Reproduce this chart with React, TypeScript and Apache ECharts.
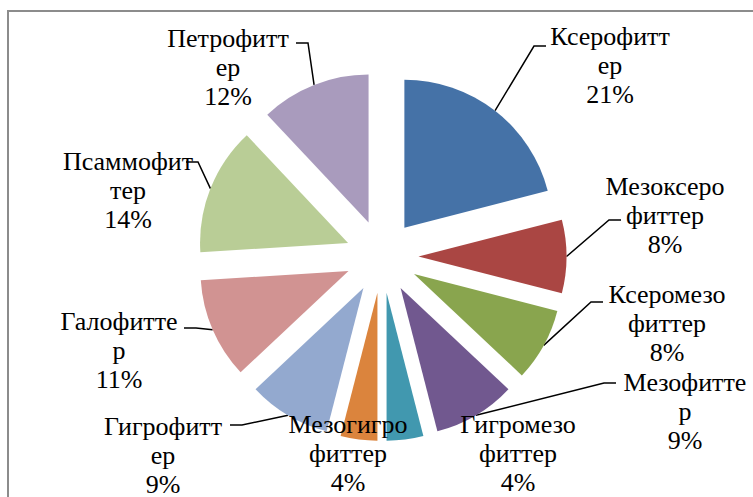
import React, { useEffect, useRef } from 'react';
import * as echarts from 'echarts';

const CATEGORIES = ['Ксерофиттер', 'Мезоксерофиттер', 'Ксеромезофиттер', 'Мезофиттер', 'Гигромезофиттер', 'Мезогигрофиттер', 'Гигрофиттер', 'Галофиттер', 'Псаммофиттер', 'Петрофиттер'];
const VALUES = [21, 8, 8, 9, 4, 4, 9, 11, 14, 12];
const LABEL_TEXT = ['Ксерофитт\nер', 'Мезоксеро\nфиттер', 'Ксеромезо\nфиттер', 'Мезофитте\nр', 'Гигромезо\nфиттер', 'Мезогигро\nфиттер', 'Гигрофитт\nер', 'Галофитте\nр', 'Псаммофит\nтер', 'Петрофитт\nер'];
const COLORS = ['#4572A7', '#AA4643', '#89A54E', '#71588F', '#4198AF', '#DB843D', '#93A9CF', '#D19392', '#B9CD96', '#A99BBD'];

// layout (not data)
const LABEL_CENTER = [[610, 65], [665, 215], [667, 323], [685, 411], [518, 453], [348, 453], [163, 455], [119, 350], [128, 190], [228, 67]];
const LEADER_END: (number[] | null)[] = [[546, 46], [621, 220], [603, 302], [616, 383], null, null, [230, 425], [184, 328], [186, 162], [296, 43]];
const CENTER = [382, 256.5];
const RADIUS = 148;
const EXPLODE = 36.5;
const FONT = 'Liberation Serif';
const FONT_SIZE = 26;
const LINE_H = 29;

export default function App() {
  const ref = useRef<HTMLDivElement>(null);
  useEffect(() => {
    const chart = echarts.init(ref.current!, null, { renderer: 'svg' });
    const total = VALUES.reduce((a, b) => a + b, 0);
    const mid: number[] = [];
    let cum = 0;
    VALUES.forEach((v) => {
      mid.push(((cum + v / 2) / total) * 2 * Math.PI);
      cum += v;
    });
    const arcPoint = (i: number) => {
      const a = mid[i];
      const r = EXPLODE + RADIUS;
      return [CENTER[0] + Math.sin(a) * r, CENTER[1] - Math.cos(a) * r];
    };
    const labelFont = {
      fontFamily: FONT,
      fontSize: FONT_SIZE,
      lineHeight: LINE_H,
      fontStyle: 'normal',
      fontWeight: 'normal',
      color: '#000',
    };
    const series = CATEGORIES.map((_, k) => ({
      type: 'pie',
      center: [CENTER[0] + Math.sin(mid[k]) * EXPLODE, CENTER[1] - Math.cos(mid[k]) * EXPLODE],
      radius: RADIUS,
      startAngle: 90,
      clockwise: true,
      avoidLabelOverlap: false,
      silent: true,
      emphasis: { disabled: true },
      itemStyle: { borderWidth: 0 },
      label: {
        show: true,
        position: 'outside',
        align: 'center',
        ...labelFont,
        formatter: (p: any) => LABEL_TEXT[p.dataIndex] + '\n' + Math.round(p.percent) + '%',
      },
      labelLine: { show: true, lineStyle: { color: '#000', width: 1.5 } },
      labelLayout: (params: any) => {
        const i = params.dataIndex;
        const out: any = { x: LABEL_CENTER[i][0], y: LABEL_CENTER[i][1], align: 'center', verticalAlign: 'middle' };
        const end = LEADER_END[i];
        if (end) {
          const p = arcPoint(i);
          const dir = p[0] > end[0] ? 1 : -1;
          out.labelLinePoints = [p, [end[0] + dir * 12, end[1]], end];
        }
        return out;
      },
      data: CATEGORIES.map((name, i) => ({
        name,
        value: VALUES[i],
        itemStyle: { color: i === k ? COLORS[i] : 'rgba(0,0,0,0)' },
        label: { show: i === k, ...labelFont },
        labelLine: { show: i === k && LEADER_END[i] !== null },
      })),
    }));
    chart.setOption({
      animation: false,
      textStyle: { fontFamily: FONT },
      graphic: [
        {
          type: 'rect',
          silent: true,
          shape: { x: 8, y: 11, width: 900, height: 700 },
          style: { fill: 'none', stroke: '#8c8c8c', lineWidth: 2 },
        },
      ],
      series,
    });
    return () => chart.dispose();
  }, []);
  return <div ref={ref} style={{ position: 'fixed', left: 0, top: 0, width: 753, height: 497, background: '#fff' }} />;
}
